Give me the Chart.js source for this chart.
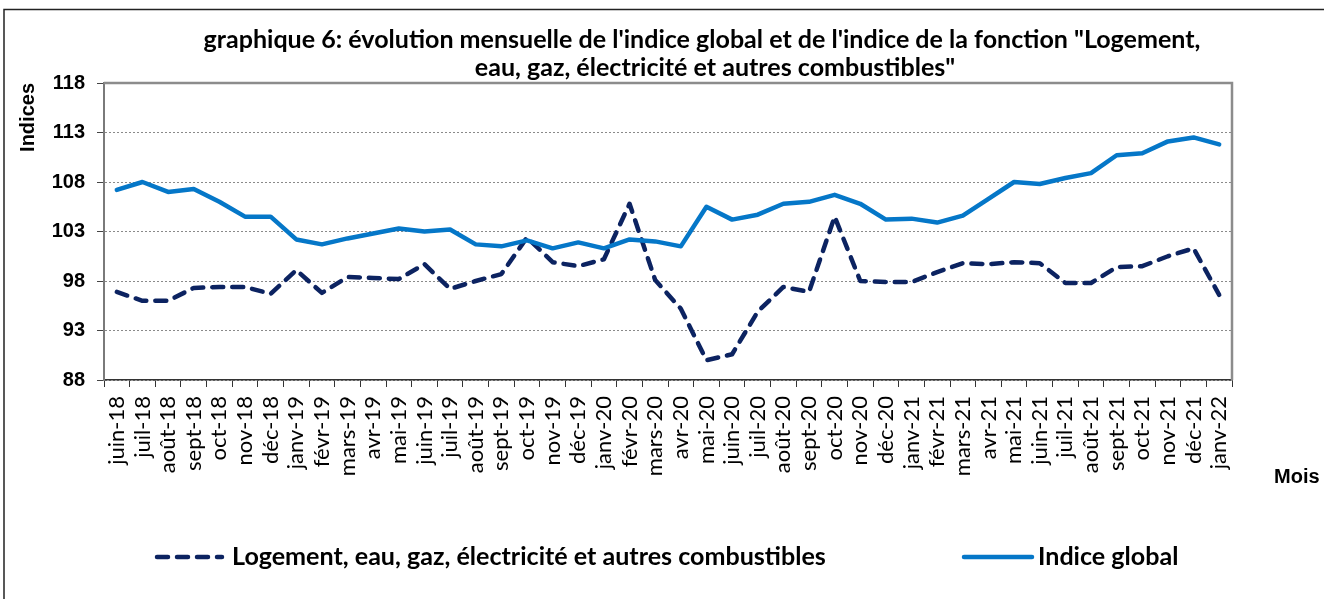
<!DOCTYPE html>
<html lang="fr">
<head>
<meta charset="utf-8">
<title>graphique 6</title>
<script src="https://cdn.jsdelivr.net/npm/chart.js@4.4.1/dist/chart.umd.min.js"></script>
<style>
  html, body { margin: 0; padding: 0; background: #fff; }
  #wrap { width: 1324px; height: 599px; }
</style>
</head>
<body>
<div id="wrap"><canvas id="chart" width="1324" height="599"></canvas></div>
<script>
// catégories (mois)
const mois = [
  'juin-18', 'juil-18', 'août-18', 'sept-18', 'oct-18', 'nov-18', 'déc-18',
  'janv-19', 'févr-19', 'mars-19', 'avr-19', 'mai-19', 'juin-19', 'juil-19', 'août-19', 'sept-19', 'oct-19', 'nov-19', 'déc-19',
  'janv-20', 'févr-20', 'mars-20', 'avr-20', 'mai-20', 'juin-20', 'juil-20', 'août-20', 'sept-20', 'oct-20', 'nov-20', 'déc-20',
  'janv-21', 'févr-21', 'mars-21', 'avr-21', 'mai-21', 'juin-21', 'juil-21', 'août-21', 'sept-21', 'oct-21', 'nov-21', 'déc-21',
  'janv-22'
];

// Logement, eau, gaz, électricité et autres combustibles
const logement = [
  96.9, 96.0, 96.0, 97.3, 97.4, 97.4, 96.7,
  99.1, 96.8, 98.4, 98.3, 98.2, 99.7, 97.2, 98.0, 98.7, 102.4, 99.9, 99.5,
  100.2, 105.8, 98.1, 95.2, 90.0, 90.6, 94.9, 97.4, 96.9, 104.5, 98.0, 97.9,
  97.9, 98.9, 99.8, 99.7, 99.9, 99.8, 97.8, 97.8, 99.4, 99.5, 100.5, 101.3,
  96.6
];

// Indice global
const indiceGlobal = [
  107.2, 108.0, 107.0, 107.3, 106.0, 104.5, 104.5,
  102.2, 101.7, 102.3, 102.8, 103.3, 103.0, 103.2, 101.7, 101.5, 102.1, 101.3, 101.9,
  101.3, 102.2, 102.0, 101.5, 105.5, 104.2, 104.7, 105.8, 106.0, 106.7, 105.8, 104.2,
  104.3, 103.9, 104.6, 106.3, 108.0, 107.8, 108.4, 108.9, 110.7, 110.9, 112.1, 112.5,
  111.8
];

// axe des indices
const yMin = 88;
const yMax = 118;
const yStep = 5;

const titreLignes = [
  'graphique 6: évolution mensuelle de l\'indice global et de l\'indice de la fonction "Logement,',
  'eau, gaz, électricité et autres combustibles"'
];
const nomLogement = 'Logement, eau, gaz, électricité et autres combustibles';
const nomGlobal = 'Indice global';

const bleuGlobal = '#0577c8';
const bleuLogement = '#0c2361';
const dashLogement = [11, 9];

// taille de police pour qu'un texte occupe une largeur donnée
function fitFont(ctx, text, weight, family, width) {
  ctx.font = `${weight} 20px ${family}`;
  return 20 * width / ctx.measureText(text).width;
}

// cadre, titre, légende et "Mois"
const decor = {
  id: 'decor',
  beforeDatasetsDraw(chart) {
    const { ctx, chartArea: a } = chart;
    ctx.save();
    ctx.strokeStyle = '#8c8c8c';
    ctx.lineWidth = 2.5;
    ctx.beginPath();
    ctx.moveTo(a.left, a.top);
    ctx.lineTo(a.right, a.top);
    ctx.lineTo(a.right, a.bottom);
    ctx.stroke();
    ctx.restore();
  },
  afterDraw(chart) {
    const ctx = chart.ctx;
    ctx.save();

    // cadre extérieur
    ctx.strokeStyle = '#222';
    ctx.lineWidth = 1.5;
    ctx.beginPath();
    ctx.moveTo(4, 599);
    ctx.lineTo(4, 9.5);
    ctx.lineTo(1324, 9.5);
    ctx.stroke();

    // titre
    ctx.fillStyle = '#000';
    ctx.textBaseline = 'middle';
    ctx.textAlign = 'center';
    const tSize = fitFont(ctx, titreLignes[0], 'bold', 'Lato', 997);
    ctx.font = `bold ${tSize}px Lato`;
    ctx.fillText(titreLignes[0], 702, 40);
    ctx.fillText(titreLignes[1], 715, 68);

    // légende
    const lSize = fitFont(ctx, nomLogement, 'bold', 'Lato', 594);
    ctx.lineCap = 'round';
    ctx.lineWidth = 4.5;
    ctx.strokeStyle = bleuLogement;
    ctx.setLineDash(dashLogement);
    ctx.beginPath();
    ctx.moveTo(157, 557);
    ctx.lineTo(222, 557);
    ctx.stroke();
    ctx.setLineDash([]);
    ctx.strokeStyle = bleuGlobal;
    ctx.beginPath();
    ctx.moveTo(964, 557);
    ctx.lineTo(1032, 557);
    ctx.stroke();

    ctx.font = `bold ${lSize}px Lato`;
    ctx.textAlign = 'left';
    ctx.fillStyle = '#000';
    ctx.fillText(nomLogement, 232, 557);
    ctx.fillText(nomGlobal, 1038, 557);

    // titre de l'axe des x
    ctx.font = 'bold 20px "Liberation Sans"';
    ctx.fillText('Mois', 1274, 477);
    ctx.restore();
  }
};

const ctx = document.getElementById('chart').getContext('2d');
const chart = new Chart(ctx, {
  type: 'line',
  data: {
    labels: mois,
    datasets: [
      {
        label: nomLogement,
        data: logement,
        borderColor: bleuLogement,
        borderWidth: 4.5,
        borderDash: dashLogement,
        borderCapStyle: 'round',
        borderJoinStyle: 'round',
        pointRadius: 0,
        tension: 0,
        order: 1
      },
      {
        label: nomGlobal,
        data: indiceGlobal,
        borderColor: bleuGlobal,
        borderWidth: 4.5,
        borderCapStyle: 'round',
        borderJoinStyle: 'round',
        pointRadius: 0,
        tension: 0,
        order: 0
      }
    ]
  },
  options: {
    responsive: false,
    animation: false,
    devicePixelRatio: 1,
    layout: { padding: { top: 83, right: 92, bottom: 0, left: 0 } },
    plugins: {
      legend: { display: false },
      title: { display: false },
      tooltip: { enabled: false }
    },
    scales: {
      x: {
        offset: true,
        grid: { offset: true, drawOnChartArea: false, tickLength: 7, tickColor: '#333', lineWidth: 1 },
        border: { color: '#333', width: 1.5 },
        ticks: {
          autoSkip: false,
          minRotation: 90,
          maxRotation: 90,
          padding: 9,
          color: '#000',
          font: { family: 'Lato', size: 22 }
        },
        afterFit(s) { s.height = 219; }
      },
      y: {
        min: yMin,
        max: yMax,
        ticks: {
          stepSize: yStep,
          padding: 12,
          color: '#000',
          font: { family: '"Liberation Sans"', weight: 'bold', size: 20 }
        },
        grid: { color: '#8a8a8a', lineWidth: 1, tickLength: 7, tickColor: '#444', tickBorderDash: [] },
        border: { color: '#7a7a7a', width: 2, dash: [2, 2] },
        title: {
          display: true,
          text: 'Indices',
          align: 'end',
          color: '#000',
          font: { family: '"Liberation Sans"', weight: 'bold', size: 20 },
          padding: { top: 16, bottom: 0 }
        },
        afterFit(s) { s.width = 104; }
      }
    }
  },
  plugins: [decor]
});
</script>
</body>
</html>
